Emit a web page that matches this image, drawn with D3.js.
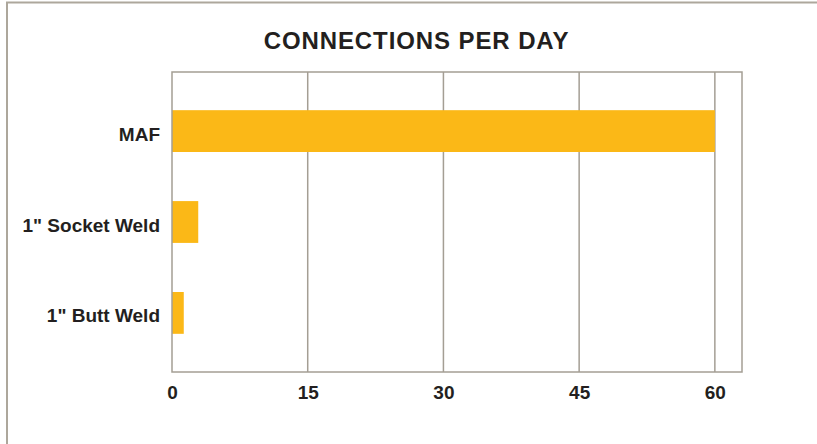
<!DOCTYPE html>
<html>
<head>
<meta charset="utf-8">
<script src="https://cdn.jsdelivr.net/npm/d3@7"></script>
<style>
  body { margin: 0; background: #fff; }
  text { font-family: "Liberation Sans", Arial, Helvetica, sans-serif; font-weight: bold; fill: #231f20; }
</style>
</head>
<body>
<div id="chart"></div>
<script>
const categories = ['MAF', '1" Socket Weld', '1" Butt Weld'];
const values = [60, 2.9, 1.3];
const tickValues = [0, 15, 30, 45, 60];
const title = 'CONNECTIONS PER DAY';

const W = 817, H = 444;
const margin = {top: 72, right: 75, bottom: 72, left: 172};
const width = W - margin.left - margin.right;
const height = H - margin.top - margin.bottom;
const gridColor = '#a49e94';

const svg = d3.select('#chart').append('svg')
    .attr('width', W).attr('height', H);

// outer frame (top + left edges only)
svg.append('path')
    .attr('d', 'M7,' + H + ' V2.5 H' + W)
    .attr('fill', 'none')
    .attr('stroke', '#ada79c')
    .attr('stroke-width', 2);

svg.append('text')
    .attr('x', 416.5)
    .attr('y', 48.5)
    .attr('text-anchor', 'middle')
    .style('font-size', '24px')
    .style('letter-spacing', '0.9px')
    .text(title);

const g = svg.append('g')
    .attr('transform', 'translate(' + margin.left + ',' + margin.top + ')');

const x = d3.scaleLinear().domain([0, 63]).range([0, width]);
const y = d3.scaleBand().domain(categories).range([0, height])
    .paddingInner(0.54).paddingOuter(0.42);

const data = categories.map((c, i) => ({name: c, value: values[i]}));

// vertical grid lines
g.selectAll('.grid')
    .data(tickValues.slice(1))
    .join('line')
    .attr('class', 'grid')
    .attr('x1', d => x(d)).attr('x2', d => x(d))
    .attr('y1', 0).attr('y2', height)
    .attr('stroke', gridColor)
    .attr('stroke-width', 1.5);

// bars
g.selectAll('.bar')
    .data(data)
    .join('rect')
    .attr('class', 'bar')
    .attr('x', x(0))
    .attr('y', d => y(d.name))
    .attr('width', d => x(d.value) - x(0))
    .attr('height', y.bandwidth())
    .attr('fill', '#fbb817');

// plot frame
g.append('rect')
    .attr('width', width).attr('height', height)
    .attr('fill', 'none')
    .attr('stroke', gridColor)
    .attr('stroke-width', 1.5);

// x axis
const xAxis = g.append('g')
    .attr('transform', 'translate(0,' + height + ')')
    .call(d3.axisBottom(x).tickValues(tickValues).tickSize(0).tickPadding(10));
xAxis.select('.domain').remove();
xAxis.selectAll('text')
    .style('font-size', '19px')
    .attr('dy', '0.9em');

// y axis
const yAxis = g.append('g')
    .call(d3.axisLeft(y).tickSize(0).tickPadding(12));
yAxis.select('.domain').remove();
yAxis.selectAll('text')
    .style('font-size', '19px')
    .attr('dy', '0.5em');
</script>
</body>
</html>
